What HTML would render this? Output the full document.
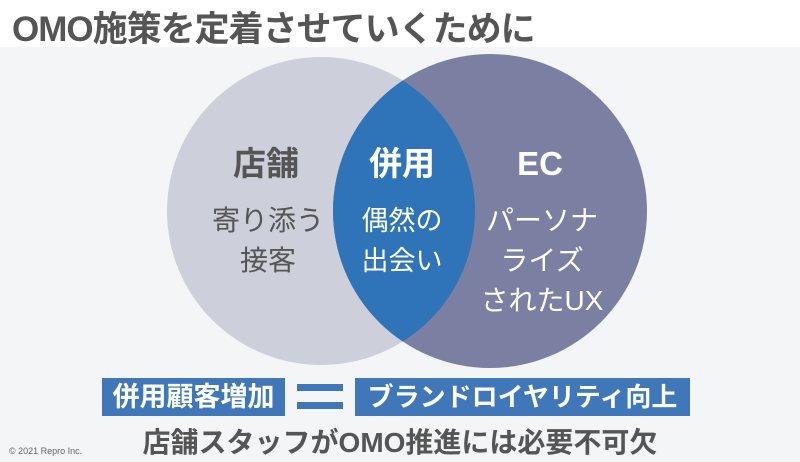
<!DOCTYPE html>
<html><head><meta charset="utf-8"><style>
body{margin:0;width:800px;height:462px;overflow:hidden;background:#f4f5f7;font-family:"Liberation Sans","Noto Sans CJK JP",sans-serif;position:relative}
.top{position:absolute;left:0;top:0;width:800px;height:47px;background:#fff}
.t{position:absolute;font-weight:bold;color:#555;white-space:nowrap}
.box{position:absolute;background:#3f77b8;color:#fff;font-weight:bold;line-height:38px;text-align:center;top:378px;height:38px}
</style></head><body>
<div class="top"></div>
<div class="t" style="left:12px;top:1px;font-size:35px;letter-spacing:-1px">OMO施策を定着させていくために</div>
<svg width="800" height="462" style="position:absolute;left:0;top:0">
<defs><clipPath id="c"><circle cx="321" cy="211" r="154"/></clipPath></defs>
<circle cx="321" cy="211" r="154" fill="#cdd0da"/>
<circle cx="490" cy="211" r="157" fill="#7b80a3"/>
<circle cx="490" cy="211" r="157" fill="#2f74b8" clip-path="url(#c)"/>
<g font-family="Liberation Sans,Noto Sans CJK JP,sans-serif" text-anchor="middle">
<text x="266" y="175" font-size="33" font-weight="bold" fill="#555">店舗</text>
<text x="268" y="230" font-size="28" fill="#555">寄り添う</text>
<text x="268" y="270" font-size="28" fill="#555">接客</text>
<text x="402" y="175" font-size="33" font-weight="bold" fill="#fff">併用</text>
<text x="402" y="230" font-size="27" fill="#fff">偶然の</text>
<text x="402" y="270" font-size="27" fill="#fff">出会い</text>
<text x="540" y="175" font-size="33" font-weight="bold" fill="#fff">EC</text>
<text x="542" y="230" font-size="28" fill="#fff">パーソナ</text>
<text x="542" y="270" font-size="28" fill="#fff">ライズ</text>
<text x="542" y="310" font-size="28" fill="#fff">されたUX</text>
</g>
<rect x="297" y="384" width="46" height="7" fill="#3f77b8"/>
<rect x="297" y="402" width="46" height="7" fill="#3f77b8"/>
</svg>
<div class="box" style="left:102px;width:183px;font-size:27px">併用顧客増加</div>
<div class="box" style="left:355px;width:335px;font-size:26px">ブランドロイヤリティ向上</div>
<div class="t" style="left:0;width:800px;text-align:center;top:421px;font-size:28px">店舗スタッフがOMO推進には必要不可欠</div>
<div style="position:absolute;left:9px;top:446px;font-size:9px;color:#666">© 2021 Repro Inc.</div>
</body></html>
